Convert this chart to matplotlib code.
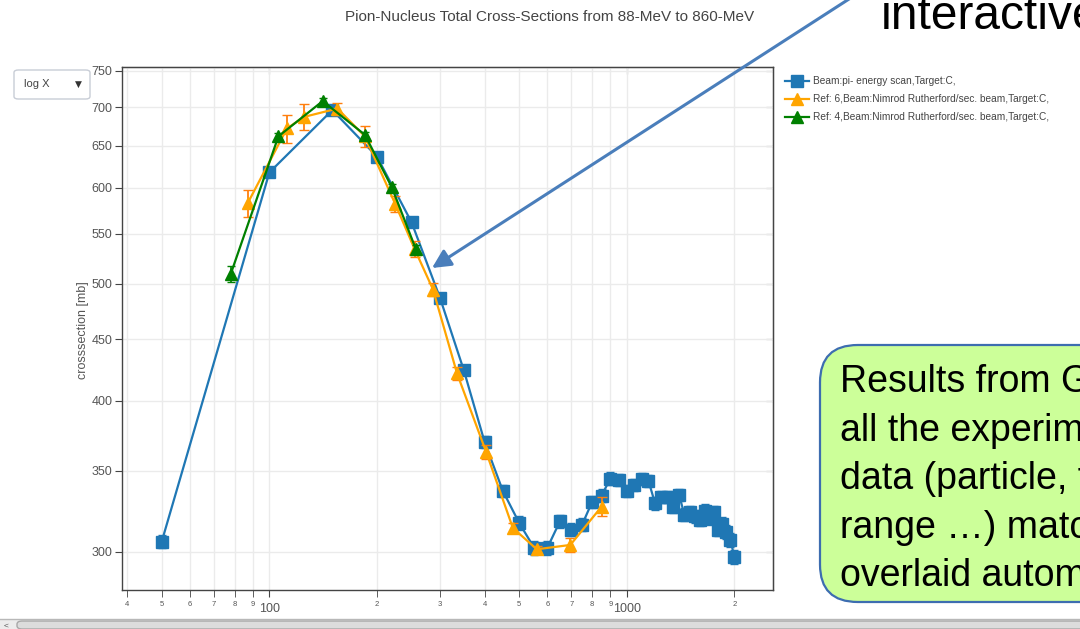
import numpy as np
import matplotlib
matplotlib.use("Agg")
import matplotlib.pyplot as plt
from matplotlib.lines import Line2D
from matplotlib.patches import FancyBboxPatch, FancyArrowPatch, Rectangle
from matplotlib.ticker import FixedLocator, LogLocator, FuncFormatter, NullLocator

plt.rcParams["font.family"] = ["Liberation Sans", "DejaVu Sans"]

TITLE = "Pion-Nucleus Total Cross-Sections from 88-MeV to 860-MeV"
YLABEL = "crosssection [mb]"
LABELS = ["Beam:pi- energy scan,Target:C,",
          "Ref: 6,Beam:Nimrod Rutherford/sec. beam,Target:C,",
          "Ref: 4,Beam:Nimrod Rutherford/sec. beam,Target:C,"]

# pi- energy scan (blue squares)
scan_e = [50, 100, 150, 200, 250, 300, 350, 400, 450, 500, 550, 600, 650, 700,
          750, 800, 850, 900, 950, 1000, 1050, 1100, 1150, 1200, 1250, 1300,
          1350, 1400, 1450, 1500, 1550, 1600, 1650, 1700, 1750, 1800, 1850,
          1900, 1950, 2000]
scan_xs = [306, 618, 696, 637, 562, 487, 424, 370, 337, 317, 302.5, 302.5, 318,
           313, 316, 330, 334, 345, 344, 337, 341, 344.5, 343.5, 329, 333, 333,
           327, 334.5, 322, 323.5, 321, 319, 324.5, 320, 323.5, 313, 316.5,
           311.5, 307, 297]
scan_err = [4] * len(scan_e)

# Ref 6 (orange triangles)
ref6_e = [87, 112, 125, 155, 185, 225, 255, 287, 335, 404, 480, 560, 695, 850]
ref6_xs = [583, 672, 687, 698, 662, 582, 534, 494.5, 421.5, 363, 314, 301.5, 304, 327]
ref6_err = [15, 18, 17, 8, 13, 9, 8, 6, 5, 5, 3, 2, 4, 6]

# Ref 4 (green triangles)
ref4_e = [78, 106, 141, 185, 220, 257]
ref4_xs = [509.5, 662, 708, 664, 601, 534]
ref4_err = [8, 4, 4, 4, 4, 4]

BLUE, ORANGE, ORANGE_ERR, GREEN = "#1f77b4", "#ffa500", "#ff7f0e", "#008000"
W, H = 1080, 629


def fx(px):
    return px / W


def fy(py):
    return 1 - py / H


fig = plt.figure(figsize=(10.8, 6.29), dpi=100)
ax = fig.add_axes([fx(122), fy(590), fx(773) - fx(122), fy(67) - fy(590)])
ax.set_xscale("log")
ax.set_yscale("log")
ax.set_xlim(38.7, 2565)
ax.set_ylim(279, 755.5)

# blue scan
ax.errorbar(scan_e, scan_xs, yerr=scan_err, fmt="none", ecolor=BLUE,
            elinewidth=1.2, capsize=3, zorder=2)
ax.plot(scan_e, scan_xs, color=BLUE, lw=1.6, marker="s", ms=8.5,
        label=LABELS[0], zorder=3)
# orange ref 6
ax.errorbar(ref6_e, ref6_xs, yerr=ref6_err, fmt="none", ecolor=ORANGE_ERR,
            elinewidth=1.3, capsize=3.5, zorder=4)
ax.plot(ref6_e, ref6_xs, color=ORANGE, lw=1.6, marker="^", ms=8.5,
        label=LABELS[1], zorder=5)
# green ref 4
ax.errorbar(ref4_e, ref4_xs, yerr=ref4_err, fmt="none", ecolor=GREEN,
            elinewidth=1.2, capsize=3, zorder=6)
ax.plot(ref4_e, ref4_xs, color=GREEN, lw=1.6, marker="^", ms=8.5,
        label=LABELS[2], zorder=7)

# axes styling
for sp in ax.spines.values():
    sp.set_color("#444444")
    sp.set_linewidth(1.0)
ax.yaxis.set_major_locator(FixedLocator([300, 350, 400, 450, 500, 550, 600, 650, 700, 750]))
ax.yaxis.set_minor_locator(NullLocator())
ax.yaxis.set_major_formatter(FuncFormatter(lambda v, p: f"{v:.0f}"))
ax.xaxis.set_major_locator(LogLocator(base=10, subs=[1.0]))
ax.xaxis.set_minor_locator(LogLocator(base=10, subs=np.arange(2, 10)))
ax.xaxis.set_major_formatter(FuncFormatter(lambda v, p: f"{v:.0f}"))
ax.xaxis.set_minor_formatter(FuncFormatter(
    lambda v, p: f"{v / 10 ** np.floor(np.log10(v) + 1e-9):.0f}"))
ax.tick_params(axis="y", which="major", labelsize=9, labelcolor="#555555",
               color="#444444", length=5, direction="out", pad=2)
ax.tick_params(axis="x", which="major", labelsize=9, labelcolor="#555555",
               color="#444444", length=5, direction="out", pad=4.5)
ax.tick_params(axis="x", which="minor", labelsize=5.5, labelcolor="#555555",
               color="#444444", length=5, direction="out", pad=3)
ax.grid(True, which="both", color="#ebebeb", lw=1.0)
ax.set_axisbelow(True)

# mirrored inward ticks on top / right
top = ax.secondary_xaxis("top")
top.set_xscale("log")
top.xaxis.set_major_locator(LogLocator(base=10, subs=[1.0]))
top.xaxis.set_minor_locator(LogLocator(base=10, subs=np.arange(2, 10)))
top.tick_params(which="both", direction="in", length=5, color="#444444",
                labeltop=False)
right = ax.secondary_yaxis("right")
right.yaxis.set_major_locator(FixedLocator([300, 350, 400, 450, 500, 550, 600, 650, 700, 750]))
right.yaxis.set_minor_locator(NullLocator())
right.tick_params(which="both", direction="in", length=5, color="#444444",
                  labelright=False)

fig.text(fx(83), fy(330), YLABEL, rotation=90, ha="center", va="center",
         fontsize=9, color="#555555")
fig.text(fx(550), fy(17), TITLE, ha="center", va="center", fontsize=11,
         color="#444444")

handles = [Line2D([], [], color=BLUE, lw=1.6, marker="s", ms=8),
           Line2D([], [], color=ORANGE, lw=1.6, marker="^", ms=8),
           Line2D([], [], color=GREEN, lw=1.6, marker="^", ms=8)]
fig.legend(handles, LABELS, loc="upper left", bbox_to_anchor=(fx(781), fy(72)),
           frameon=False, fontsize=7.3, handlelength=2.4, labelspacing=0.8,
           handletextpad=0.4, borderaxespad=0, labelcolor="#444444")

# dropdown widget
fig.add_artist(FancyBboxPatch((fx(14), fy(99)), fx(76), fy(70) - fy(99),
                              boxstyle="round,pad=0,rounding_size=0.004",
                              transform=fig.transFigure, facecolor="white",
                              edgecolor="#c8cdd6", lw=1.0))
fig.text(fx(24), fy(84), "log X", ha="left", va="center", fontsize=8, color="#444444")
fig.text(fx(78), fy(84), "\u25bc", ha="center", va="center", fontsize=6.5,
         color="#333333", family="DejaVu Sans")

# slide overlays: arrow, "interactive", green callout
fig.add_artist(FancyArrowPatch((fx(863), fy(-10)), (fx(432), fy(268)),
                               transform=fig.transFigure, arrowstyle="-|>",
                               mutation_scale=28, color="#4a7ebb", lw=2.2,
                               shrinkA=0, shrinkB=0))
fig.text(fx(881), fy(29), "interactive", ha="left", va="baseline",
         fontsize=34.5, color="black")
fig.add_artist(FancyBboxPatch((fx(820), fy(602)), fx(400), fy(345) - fy(602),
                              boxstyle="round,pad=0,rounding_size=0.035",
                              transform=fig.transFigure, facecolor="#ccff99",
                              edgecolor="#3d6db0", lw=1.6, mutation_aspect=1.7))
fig.text(fx(840), fy(364), "Results from Geant4 and\nall the experimental\n"
         "data (particle, target, energy\nrange \u2026) matching are\n"
         "overlaid automatically",
         ha="left", va="top", fontsize=27, color="black", linespacing=1.45)

# browser scrollbar at the bottom
fig.add_artist(Rectangle((0, 0), 1, fy(619), transform=fig.transFigure,
                         facecolor="#ececec", edgecolor="none"))
fig.add_artist(Line2D([0, 1], [fy(619), fy(619)], transform=fig.transFigure,
                      color="#b8b8b8", lw=1))
fig.add_artist(FancyBboxPatch((fx(17), fy(629)), fx(1080), fy(621) - fy(629),
                              boxstyle="round,pad=0,rounding_size=0.005",
                              transform=fig.transFigure, facecolor="#dcdcdc",
                              edgecolor="#a8a8a8", lw=1))
fig.text(fx(6), fy(626), "<", ha="center", va="center", fontsize=6, color="#555555")

fig.savefig("out.png", dpi=100)
